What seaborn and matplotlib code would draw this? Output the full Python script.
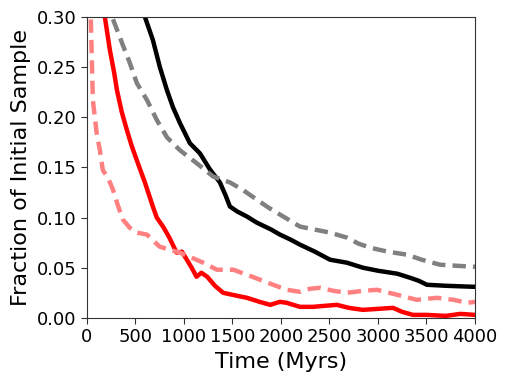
import matplotlib
matplotlib.use("Agg")
import matplotlib.pyplot as plt
import seaborn as sns
import pandas as pd

# Black solid
black_t = [0, 400, 598, 680, 752, 825, 887, 960, 1062, 1165, 1268, 1371, 1430, 1474, 1550, 1650, 1750, 1900, 1990, 2100, 2196, 2350, 2505, 2680, 2845, 3000, 3200, 3330, 3420, 3505, 3700, 3980, 4000]
black_v = [1.0, 0.42, 0.300, 0.277, 0.250, 0.227, 0.210, 0.194, 0.174, 0.164, 0.148, 0.135, 0.122, 0.111, 0.106, 0.101, 0.095, 0.088, 0.083, 0.078, 0.073, 0.066, 0.058, 0.055, 0.050, 0.047, 0.044, 0.040, 0.037, 0.033, 0.032, 0.031, 0.031]

# Gray dashed
gray_t = [0, 150, 260, 370, 443, 515, 620, 722, 825, 960, 1134, 1300, 1474, 1600, 1750, 1870, 1990, 2196, 2350, 2505, 2680, 2800, 2918, 3100, 3300, 3450, 3640, 3800, 3980, 4000]
gray_v = [1.0, 0.45, 0.30, 0.272, 0.254, 0.234, 0.217, 0.197, 0.180, 0.167, 0.154, 0.141, 0.135, 0.128, 0.118, 0.110, 0.103, 0.091, 0.088, 0.085, 0.080, 0.074, 0.070, 0.066, 0.063, 0.058, 0.053, 0.052, 0.051, 0.051]

# Red solid
red_t = [0, 120, 185, 237, 280, 310, 360, 410, 460, 515, 598, 680, 720, 785, 850, 925, 980, 1030, 1080, 1130, 1180, 1240, 1320, 1405, 1500, 1650, 1780, 1890, 1990, 2060, 2196, 2330, 2450, 2577, 2700, 2845, 3000, 3155, 3250, 3360, 3500, 3700, 3850, 4000]
red_v = [1.0, 0.42, 0.30, 0.267, 0.245, 0.227, 0.205, 0.188, 0.172, 0.157, 0.135, 0.111, 0.100, 0.091, 0.080, 0.065, 0.066, 0.058, 0.050, 0.041, 0.045, 0.041, 0.032, 0.025, 0.023, 0.020, 0.016, 0.013, 0.016, 0.015, 0.011, 0.011, 0.012, 0.013, 0.010, 0.008, 0.009, 0.010, 0.006, 0.003, 0.003, 0.002, 0.004, 0.003]

# Pink dashed
pink_t = [0, 20, 40, 62, 100, 134, 165, 216, 268, 320, 371, 440, 515, 620, 750, 850, 960, 1080, 1200, 1340, 1510, 1650, 1785, 1920, 2060, 2196, 2300, 2400, 2540, 2680, 2850, 2990, 3200, 3400, 3610, 3780, 3920, 4000]
pink_v = [1.0, 0.40, 0.30, 0.217, 0.185, 0.167, 0.147, 0.140, 0.128, 0.112, 0.098, 0.090, 0.085, 0.083, 0.071, 0.068, 0.065, 0.060, 0.055, 0.048, 0.048, 0.043, 0.038, 0.033, 0.028, 0.026, 0.029, 0.030, 0.027, 0.025, 0.027, 0.028, 0.023, 0.018, 0.020, 0.018, 0.015, 0.016]

sns.set_style("ticks")
plt.rcParams["text.color"] = "black"
plt.rcParams["axes.labelcolor"] = "black"
plt.rcParams["xtick.color"] = "black"
plt.rcParams["ytick.color"] = "black"
fig, ax = plt.subplots(figsize=(5.08, 3.83), dpi=100)
fig.subplots_adjust(left=0.171, right=0.935, top=0.956, bottom=0.170)

sns.lineplot(x=black_t, y=black_v, ax=ax, color="black", lw=3.2)
sns.lineplot(x=gray_t, y=gray_v, ax=ax, color="#808080", lw=3.2, linestyle=(0, (3, 1.6)))
sns.lineplot(x=red_t, y=red_v, ax=ax, color="#ff0000", lw=3.2)
sns.lineplot(x=pink_t, y=pink_v, ax=ax, color="#ff8080", lw=3.2, linestyle=(0, (3, 1.6)))

ax.set_xlim(0, 4000)
ax.set_ylim(0, 0.30)
ax.set_xticks([0, 500, 1000, 1500, 2000, 2500, 3000, 3500, 4000])
ax.set_yticks([0.00, 0.05, 0.10, 0.15, 0.20, 0.25, 0.30])
ax.set_yticklabels(["0.00", "0.05", "0.10", "0.15", "0.20", "0.25", "0.30"])
ax.tick_params(labelsize=13, length=4, color="#333333", labelcolor="black")
for s in ax.spines.values():
    s.set_color("#333333")
ax.set_xlabel("Time (Myrs)", fontsize=16, color="black")
ax.set_ylabel("Fraction of Initial Sample", fontsize=16, color="black")

fig.savefig("out.png", dpi=100)
